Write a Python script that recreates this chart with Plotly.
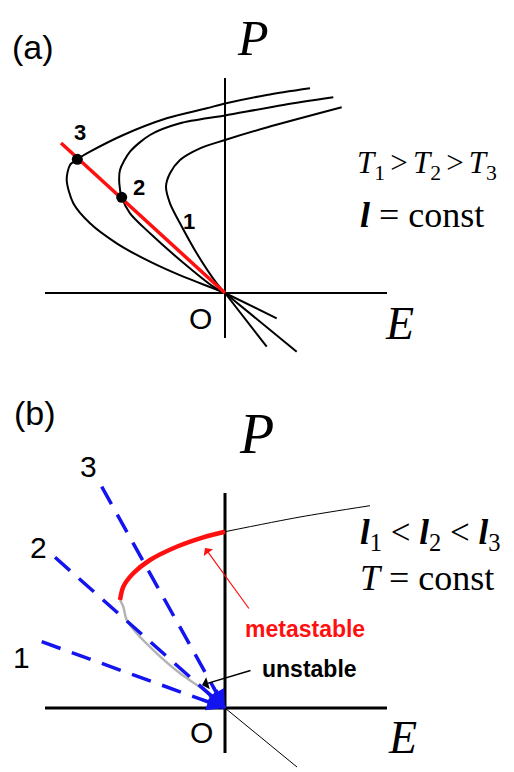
import plotly.graph_objects as go
import numpy as np

# ---- panel (a): P(E) curves at T1 > T2 > T3, units of the drawing ----
curve1_E = [0, -0.83, -2.83, -4.5, -5.5, -5.9, -5.5, -4.5, -2.5, 0, 4.17, 11.67]
curve1_P = [0, 0.97, 3.97, 6.97, 8.97, 10.63, 11.97, 13.3, 14.47, 15.3, 16.55, 18.57]
curve2_E = [0, -1.17, -4.5, -7.5, -9.5, -10.33, -10.57, -10.5, -9.5, -7.5, -4.5, 0, 5.83, 10.83]
curve2_P = [0, 0.63, 3.3, 5.97, 7.97, 9.57, 10.97, 12.3, 14.13, 15.8, 16.97, 17.75, 18.8, 19.57]
curve3_E = [0, -1.17, -4.17, -7.5, -10.83, -13.5, -15.17, -15.83, -15.5, -14.77, -13.5, -10.17, -5.83, -1.83, 0, 4.17, 8.5]
curve3_P = [0, 0.47, 1.63, 3.13, 4.97, 6.97, 8.97, 11.3, 12.8, 13.37, 14.13, 15.8, 17.47, 18.47, 18.95, 19.8, 20.47]
tail_E = [4.17, 7.17, 5.17]          # branches below the origin
tail_P = [-5.37, -5.87, -2.53]
red_line_E = [-16.4, 0]
red_line_P = [15.0, 0]
dots_E = [-14.77, -10.33]
dots_P = [13.37, 9.57]

# ---- panel (b): one curve at T = const, electrode lines l1 < l2 < l3 ----
meta_E = [0, -2.17, -4.83, -7.5, -9.17, -10.17, -10.5]
meta_P = [17.63, 17.07, 16.13, 14.8, 13.47, 12.13, 10.8]
unst_E = [-10.5, -10.17, -9.83, -8.83, -6.83, -4.5, -2.17, 0]
unst_P = [10.8, 10.13, 8.8, 7.47, 5.47, 3.47, 1.83, 0]
stable_E = [0, 7.5, 14.5]
stable_P = [17.63, 19.1, 20.23]
stable_tail_E = [0, 7.2]
stable_tail_P = [0, -5.9]
load_E = [-18.33, -17.0, -12.33]     # lines 1, 2, 3
load_P = [6.63, 15.07, 22.13]

axis_E = [-18, 16.2]
axis_P = [-4.5, 21.5]

fig = go.Figure()


def line(x, y, ref, color="black", width=2, dash=None, shape="spline"):
    fig.add_trace(go.Scatter(x=x, y=y, mode="lines", xaxis=ref[0], yaxis=ref[1],
                             line=dict(color=color, width=width, dash=dash, shape=shape,
                                       smoothing=0.8),
                             hoverinfo="skip"))


A = ("x", "y")
B = ("x2", "y2")

# axes of the drawing
for ref, w in [(A, 2), (B, 3)]:
    line(axis_E, [0, 0], ref, width=w, shape="linear")
    line([0, 0], axis_P, ref, width=w, shape="linear")

# panel (a)
for ce, cp in [(curve1_E, curve1_P), (curve2_E, curve2_P), (curve3_E, curve3_P)]:
    line(ce, cp, A, width=2)
for te, tp in zip(tail_E, tail_P):
    line([0, te], [0, tp], A, width=2, shape="linear")
line(red_line_E, red_line_P, A, color="#ff1010", width=3.5, shape="linear")
fig.add_trace(go.Scatter(x=dots_E, y=dots_P, mode="markers", xaxis="x", yaxis="y",
                         marker=dict(color="black", size=11), hoverinfo="skip"))

# panel (b)
line(stable_E, stable_P, B, width=1)
line(stable_tail_E, stable_tail_P, B, width=1, shape="linear")
line(unst_E, unst_P, B, color="#b4b4b4", width=2.5)
line(meta_E, meta_P, B, color="#ff1010", width=4.5)
for le, lp in zip(load_E, load_P):
    line([le, 0], [lp, 0], B, color="#1414f0", width=3.5, dash="20px,12px", shape="linear")

serif = "Liberation Serif"
sans = "Liberation Sans"
sp = "\u2006"
ann = []


def text(t, x, y, ref, size, family=sans, color="black", xanchor="center", yanchor="middle"):
    ann.append(dict(text=t, x=x, y=y, xref=ref[0], yref=ref[1], showarrow=False,
                    xanchor=xanchor, yanchor=yanchor,
                    font=dict(size=size, family=family, color=color)))


# blue arrowheads converging on O
for le, lp in zip(load_E, load_P):
    n = np.hypot(le, lp)
    ann.append(dict(x=0, y=0, xref="x2", yref="y2", ax=le / n * 26, ay=-lp / n * 26,
                    showarrow=True, arrowhead=2, arrowsize=1.2, arrowwidth=3,
                    arrowcolor="#1414f0", text=""))
# labelled pointers
ann.append(dict(x=-2.0, y=16.0, xref="x2", yref="y2", ax=2.5, ay=9.8,
                axref="x2", ayref="y2", showarrow=True, arrowhead=1, arrowsize=1.6,
                arrowwidth=1.2, arrowcolor="#ff1010", text=""))
ann.append(dict(x=-2.3, y=2.3, xref="x2", yref="y2", ax=2.7, ay=3.8,
                axref="x2", ayref="y2", showarrow=True, arrowhead=1, arrowsize=1.4,
                arrowwidth=1.5, arrowcolor="black", text=""))

text("(a)", -19.2, 24.6, A, 34)
text("<i>P</i>", 2.8, 28.5, A, 50, serif, yanchor="top")
text("<i>E</i>", 17.4, -3.0, A, 46, serif)
text("O", -2.5, -2.5, A, 30)
text("<b>3</b>", -14.5, 16.1, A, 22)
text("<b>2</b>", -8.6, 10.55, A, 22)
text("<b>1</b>", -3.6, 7.15, A, 22)
text(f"<i>T</i><sub>1</sub>{sp}>{sp}<i>T</i><sub>2</sub>{sp}>{sp}<i>T</i><sub>3</sub>",
     13.0, 12.8, A, 31, serif, xanchor="left")
text("<b><i>l</i></b> = const", 13.3, 7.8, A, 36, serif, xanchor="left")

text("(b)", -19.0, 29.5, B, 34)
text("<i>P</i>", 3.1, 27.4, B, 56, serif)
text("<i>E</i>", 17.7, -2.9, B, 46, serif)
text("O", -2.35, -2.45, B, 30)
text("3", -13.65, 24.15, B, 30)
text("2", -18.65, 16.05, B, 30)
text("1", -20.4, 5.05, B, 30)
text("<b>metastable</b>", 8.0, 7.9, B, 23, color="#ff1010")
text("<b>unstable</b>", 8.4, 3.9, B, 23)
text(f"<b><i>l</i></b><sub>1</sub> < <b><i>l</i></b><sub>2</sub> < <b><i>l</i></b><sub>3</sub>",
     13.3, 17.4, B, 35, serif, xanchor="left")
text("<i>T</i> = const", 13.3, 13.0, B, 36, serif, xanchor="left")

# the page body adds an 8 px margin, so the figure is 8 px smaller and
# the ranges start where the page content starts
ax_off = dict(visible=False, showgrid=False, zeroline=False, fixedrange=True)
split = 386 / 764
fig.update_layout(
    width=506, height=764,
    margin=dict(l=0, r=0, t=0, b=0),
    paper_bgcolor="white", plot_bgcolor="white",
    showlegend=False,
    xaxis=dict(domain=[0, 1], range=[-21.7, 28.9], **ax_off),
    yaxis=dict(domain=[split, 1], range=[-9.3, 28.5], **ax_off),
    xaxis2=dict(domain=[0, 1], range=[-21.7, 28.9], **ax_off),
    yaxis2=dict(domain=[0, split], range=[-6.4, 32.2], **ax_off),
    annotations=ann,
)

fig.write_html("out.html")
